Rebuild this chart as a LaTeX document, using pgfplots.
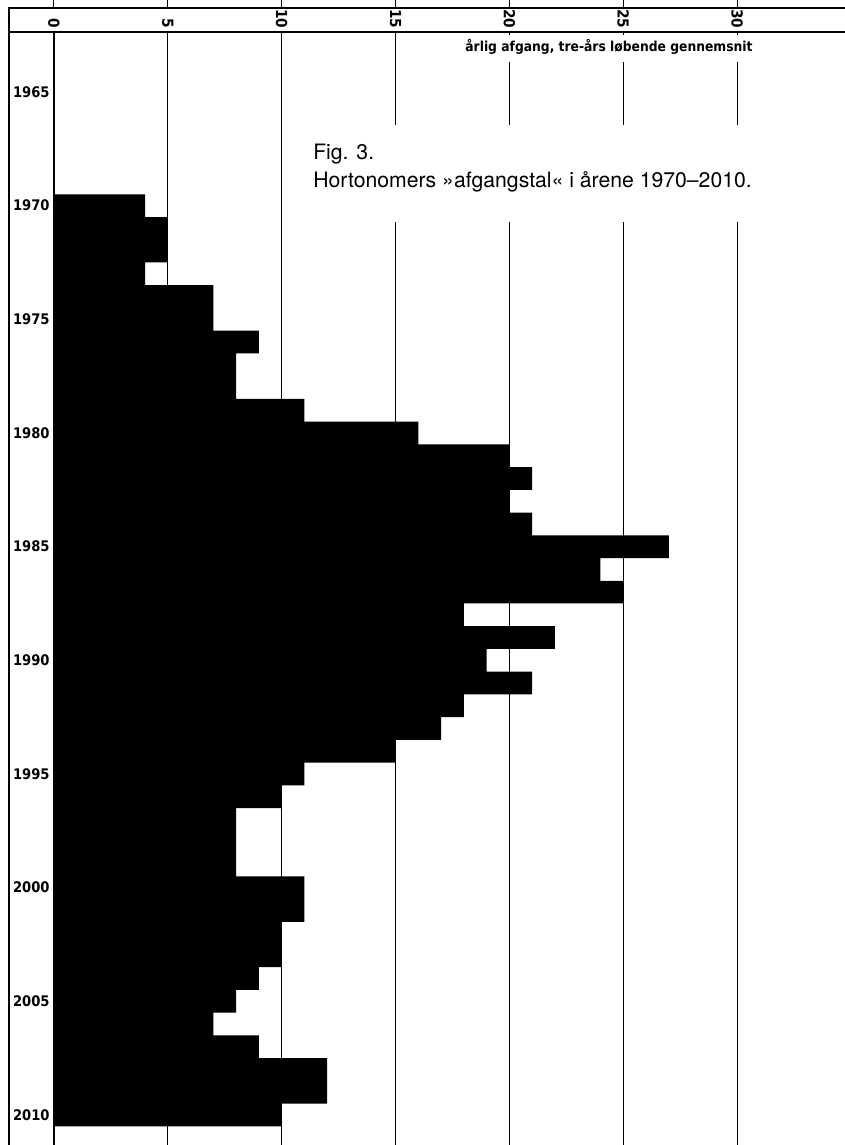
\documentclass[border=0pt]{standalone}
\usepackage{pgfplots}
\usepackage{pgfplotstable}
\pgfplotsset{compat=1.18}
\usepackage{fontspec}
\setmainfont{TeX Gyre Heros}
\newfontfamily\condfont{DejaVu Sans Condensed}

\pgfplotstableread{
year val
1970 4
1971 5
1972 5
1973 4
1974 7
1975 7
1976 9
1977 8
1978 8
1979 11
1980 16
1981 20
1982 21
1983 20
1984 21
1985 27
1986 24
1987 25
1988 18
1989 22
1990 19
1991 21
1992 18
1993 17
1994 15
1995 11
1996 10
1997 8
1998 8
1999 8
2000 11
2001 11
2002 10
2003 10
2004 9
2005 8
2006 7
2007 9
2008 12
2009 12
2010 10
}\datatable

\begin{document}
\begin{tikzpicture}
\begin{axis}[
  scale only axis, width=395.5pt, height=556.5pt,
  xmin=0, xmax=34.74, ymin=-46.32, ymax=2.64,
  xbar, bar width=1,
  axis x line*=top, axis y line*=left,
  axis line style={line width=1pt, -},
  /pgf/number format/assume math mode=true,
  xtick={0,5,...,30},
  xmajorgrids, grid style={line width=0.5pt, black},
  tick align=inside, major tick length=1.5pt,
  tick style={black, line width=0.5pt},
  xticklabel style={rotate=-90, anchor=east, inner sep=1.6pt,
    font=\condfont\bfseries\fontsize{7.6}{8}\selectfont},
  ytick={-45,-40,...,0},
  yticklabels={2010,2005,2000,1995,1990,1985,1980,1975,1970,1965},
  ytick style={draw=none},
  yticklabel style={anchor=east, inner sep=2pt,
    font=\condfont\bfseries\fontsize{7.3}{8}\selectfont},
  clip=false,
]
\addplot[fill=black, draw=none] table[x=val, y expr=1965-\thisrow{year}] {\datatable};
% white gaps in the grid behind the texts
\fill[white] (axis cs:17.83,2.51) rectangle (axis cs:30.79,1.32);
\fill[white] (axis cs:10.80,-1.45) rectangle (axis cs:31.0,-5.72);
\node[anchor=base west, inner sep=0pt, font=\condfont\bfseries\fontsize{6.85}{8}\selectfont]
  at (axis cs:18.05,1.76) {årlig afgang, tre-års løbende gennemsnit};
\node[anchor=base west, inner sep=0pt, font=\fontsize{10.6}{12}\selectfont]
  at (axis cs:11.37,-2.95) {Fig. 3.};
\node[anchor=base west, inner sep=0pt, font=\fontsize{10.6}{12}\selectfont]
  at (axis cs:11.37,-4.18) {Hortonomers »afgangstal« i årene 1970–2010.};
% frame
\coordinate (TL) at (axis description cs:0,1);
\coordinate (TR) at (axis description cs:1,1);
\coordinate (BL) at (axis description cs:0,0);
\draw[line width=1pt] ([xshift=-22.5pt]TL) -- (TL);
\draw[line width=0.8pt] ([xshift=-22.5pt,yshift=12pt]TL) -- ([yshift=12pt]TR);
\draw[line width=0.8pt] ([xshift=-22.5pt,yshift=12.4pt]TL) -- ([xshift=-22.5pt]BL);
\pgfplotsinvokeforeach{0,5,10,15,20,25,30}{
  \draw[line width=0.5pt] ([yshift=12pt]axis cs:#1,2.64) -- ++(0,-3pt);
}
\end{axis}
\pgfresetboundingbox
\path[use as bounding box] ([xshift=-27pt]BL) rectangle ([yshift=16pt]TR);
\end{tikzpicture}
\end{document}
